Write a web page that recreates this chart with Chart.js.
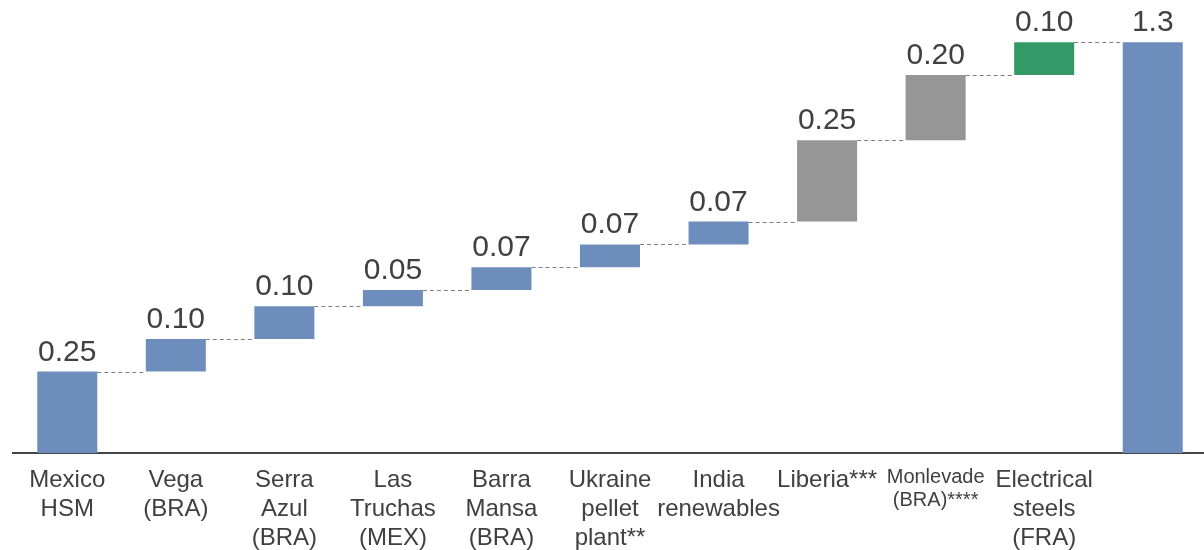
<!DOCTYPE html>
<html>
<head>
<meta charset="utf-8">
<script src="https://cdn.jsdelivr.net/npm/chart.js@4/dist/chart.umd.min.js"></script>
<style>
  html, body { margin: 0; padding: 0; background: #fff; overflow: hidden; }
  #wrap { width: 1207px; height: 550px; position: relative; }
</style>
</head>
<body>
<div id="wrap"><canvas id="c"></canvas></div>
<script>
// Project categories (multi-line tick labels); last entry is the total column
const categories = [
  ['Mexico', 'HSM'],
  ['Vega', '(BRA)'],
  ['Serra', 'Azul', '(BRA)'],
  ['Las', 'Truchas', '(MEX)'],
  ['Barra', 'Mansa', '(BRA)'],
  ['Ukraine', 'pellet', 'plant**'],
  ['India', 'renewables'],
  ['Liberia***'],
  ['Monlevade', '(BRA)****'],
  ['Electrical', 'steels', '(FRA)'],
  ''
];

// Incremental contribution of each project
const steps = [0.25, 0.10, 0.10, 0.05, 0.07, 0.07, 0.07, 0.25, 0.20, 0.10];

// Bar colour group per column: b = blue, g = grey, e = green
const colorGroups = ['b', 'b', 'b', 'b', 'b', 'b', 'b', 'g', 'g', 'e', 'b'];
const palette = { b: '#6D8EBC', g: '#969696', e: '#339966' };

const yMax = 1.39;

// Floating [start, end] pairs for the waterfall, plus the total column
const floating = [];
let running = 0;
steps.forEach(v => {
  floating.push([running, running + v]);
  running += v;
});
const total = running;
floating.push([0, total]);

const valueLabels = steps.map(v => v.toFixed(2)).concat([total.toFixed(1)]);

const textColor = '#404040';
const fontFamily = '"Liberation Sans", Arial, sans-serif';

// Dashed connectors between consecutive columns and value labels above bars
const waterfallExtras = {
  id: 'waterfallExtras',
  afterDatasetsDraw(chart) {
    const ctx = chart.ctx;
    const meta = chart.getDatasetMeta(0);
    const y = chart.scales.y;
    ctx.save();
    ctx.strokeStyle = '#7f7f7f';
    ctx.lineWidth = 1;
    ctx.setLineDash([4, 3]);
    for (let i = 0; i < meta.data.length - 1; i++) {
      const a = meta.data[i], b = meta.data[i + 1];
      const level = Math.round(y.getPixelForValue(floating[i][1])) + 0.5;
      ctx.beginPath();
      ctx.moveTo(a.x + a.width / 2, level);
      ctx.lineTo(b.x - b.width / 2, level);
      ctx.stroke();
    }
    ctx.setLineDash([]);
    ctx.fillStyle = textColor;
    ctx.font = '30px ' + fontFamily;
    ctx.textAlign = 'center';
    ctx.textBaseline = 'alphabetic';
    meta.data.forEach((bar, i) => {
      const top = y.getPixelForValue(floating[i][1]);
      ctx.fillText(valueLabels[i], bar.x, top - 11);
    });
    ctx.restore();
  }
};

new Chart(document.getElementById('c'), {
  type: 'bar',
  data: {
    labels: categories,
    datasets: [{
      data: floating,
      backgroundColor: colorGroups.map(k => palette[k]),
      borderWidth: 0,
      categoryPercentage: 1,
      barPercentage: 0.553
    }]
  },
  options: {
    responsive: true,
    maintainAspectRatio: false,
    animation: false,
    layout: { padding: { left: 13, right: 0, top: 0, bottom: 0 } },
    plugins: { legend: { display: false }, tooltip: { enabled: false } },
    scales: {
      x: {
        grid: { display: false, drawTicks: false },
        border: { display: true, color: '#454545', width: 2 },
        afterFit(scale) { scale.height = 97; },
        ticks: {
          color: textColor,
          autoSkip: false,
          maxRotation: 0,
          padding: 13,
          crossAlign: 'near',
          font: ctx => ctx.index === 8
            ? { family: fontFamily, size: 20, lineHeight: 1.15 }
            : { family: fontFamily, size: 24, lineHeight: 1.2 }
        }
      },
      y: {
        display: false,
        min: 0,
        max: yMax
      }
    }
  },
  plugins: [waterfallExtras]
});
</script>
</body>
</html>
